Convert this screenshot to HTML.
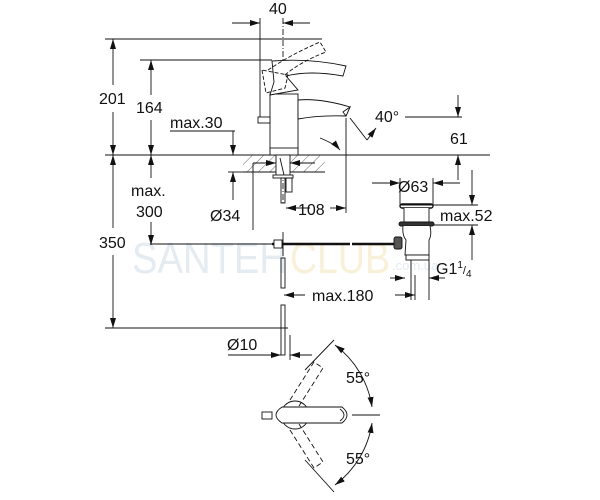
<!DOCTYPE html>
<html><head><meta charset="utf-8"><style>
html,body{margin:0;padding:0;background:#fff}
svg{display:block}
text{font-family:"Liberation Sans",sans-serif;fill:#111}
</style></head><body>
<svg width="600" height="500" viewBox="0 0 600 500" xmlns="http://www.w3.org/2000/svg">
<defs>
<marker id="a" viewBox="0 0 10 6" refX="10" refY="3" markerWidth="10" markerHeight="6" orient="auto-start-reverse" markerUnits="userSpaceOnUse"><path d="M0,0 L10,3 L0,6z" fill="#111"/></marker>
<pattern id="h" width="8" height="8" patternUnits="userSpaceOnUse" patternTransform="rotate(45)"><line x1="0" y1="0" x2="0" y2="8" stroke="#444" stroke-width="0.8"/></pattern>
</defs>
<!-- watermark -->
<text x="132" y="273" font-size="44" textLength="155" lengthAdjust="spacingAndGlyphs" style="fill:#e4ebf1">SANTEH</text>
<text x="290" y="273" font-size="44" textLength="100" lengthAdjust="spacingAndGlyphs" style="fill:#f8f0d8">CLUB</text>
<text x="392" y="270" font-size="13" style="fill:#e4ebf1">.com.ua</text>
<g stroke="#111" stroke-width="0.9" fill="none">
<line x1="105" y1="39" x2="322" y2="39"/>
<line x1="140" y1="60" x2="272" y2="60"/>
<line x1="105" y1="155" x2="490" y2="155"/>
<line x1="105" y1="328" x2="288" y2="328"/>
<line x1="170" y1="131" x2="235" y2="131"/>
<line x1="113" y1="39" x2="113" y2="85" marker-start="url(#a)"/>
<line x1="113" y1="112" x2="113" y2="155" marker-end="url(#a)"/>
<line x1="113" y1="155" x2="113" y2="228" marker-start="url(#a)"/>
<line x1="113" y1="255" x2="113" y2="328" marker-end="url(#a)"/>
<line x1="151" y1="60" x2="151" y2="95" marker-start="url(#a)"/>
<line x1="151" y1="120" x2="151" y2="155" marker-end="url(#a)"/>
<line x1="151" y1="155" x2="151" y2="178" marker-start="url(#a)"/>
<line x1="151" y1="222" x2="151" y2="245" marker-end="url(#a)"/>
<line x1="150" y1="244" x2="272" y2="244"/>
<line x1="233" y1="131" x2="233" y2="155" marker-end="url(#a)"/>
<line x1="233" y1="200" x2="233" y2="172" marker-end="url(#a)"/>
<line x1="228" y1="172" x2="243" y2="172"/>
<line x1="260" y1="18" x2="260" y2="118"/>
<line x1="283" y1="18" x2="283" y2="205" stroke-dasharray="6,2,1,2"/>
<line x1="232" y1="23" x2="260" y2="23" marker-end="url(#a)"/>
<line x1="310" y1="23" x2="283" y2="23" marker-end="url(#a)"/>
<rect x="243" y="155" width="82" height="17" fill="url(#h)" stroke="none"/>
<line x1="243" y1="172" x2="325" y2="172"/>
<rect x="270" y="94" width="28" height="58" fill="#fff"/>
<rect x="270" y="148" width="28" height="7" fill="#fff"/>
<path d="M298,100 Q320,98 350,107 L346,116 Q320,115 298,119 Z" fill="#fff"/>
<path d="M343,112 L350,107 L346,116 Z" fill="#fff"/>
<path d="M272,61 Q310,58 346,66 L343,76 Q310,70 286,76 L298,90 L270,95 L274,82 Z" fill="#fff"/>
<path d="M262,70 L266,93 L285,88 L288,75 Z" stroke-dasharray="4,2"/>
<path d="M268,70 Q290,55 320,42 L326,52 Q300,62 285,75" stroke-dasharray="4,2"/>
<rect x="258" y="117" width="12" height="6" fill="#fff"/>
<rect x="276" y="155" width="14" height="21" fill="#fff"/>
<line x1="280" y1="158" x2="284" y2="175"/>
<rect x="273" y="175" width="20" height="3" fill="#fff"/>
<rect x="281" y="178" width="4" height="25"/>
<rect x="286" y="178" width="6" height="14"/>
<line x1="253" y1="163" x2="276" y2="163" marker-end="url(#a)"/>
<line x1="315" y1="163" x2="290" y2="163" marker-end="url(#a)"/>
<line x1="253" y1="163" x2="253" y2="230"/>
<path d="M320,138 Q335,144 340,150" marker-end="url(#a)"/>
<line x1="346" y1="118" x2="346" y2="213"/>
<line x1="350" y1="118" x2="367" y2="140"/>
<path d="M367,140 L376,128" marker-end="url(#a)"/>
<line x1="405" y1="117" x2="462" y2="117"/>
<line x1="458" y1="95" x2="458" y2="117" marker-end="url(#a)"/>
<line x1="458" y1="180" x2="458" y2="155" marker-end="url(#a)"/>
<line x1="310" y1="208" x2="286" y2="208" marker-end="url(#a)"/>
<line x1="330" y1="208" x2="346" y2="208" marker-end="url(#a)"/>
<line x1="372" y1="183" x2="400" y2="183" marker-end="url(#a)"/>
<line x1="460" y1="183" x2="433" y2="183" marker-end="url(#a)"/>
<line x1="400" y1="178" x2="400" y2="205"/>
<line x1="433" y1="178" x2="433" y2="205"/>
<rect x="400" y="204" width="33" height="4" rx="2" fill="#fff" stroke-width="1.4"/>
<path d="M404,208 L404,222 L429,222 L429,208" fill="#fff"/>
<rect x="399" y="222" width="35" height="4" rx="2" fill="#333"/>
<path d="M403,226 Q402,235 406,240 L405,255 L429,255 L429,240 Q432,235 430,226" fill="#fff"/>
<rect x="406" y="255" width="23" height="5" fill="#fff"/>
<line x1="411" y1="260" x2="411" y2="300"/>
<line x1="429" y1="260" x2="429" y2="300"/>
<rect x="394" y="237" width="8" height="12" rx="2" fill="#555"/>
<line x1="400" y1="205" x2="478" y2="205"/>
<line x1="433" y1="225" x2="478" y2="225"/>
<line x1="472" y1="170" x2="472" y2="205" marker-end="url(#a)"/>
<line x1="472" y1="260" x2="472" y2="225" marker-end="url(#a)"/>
<line x1="390" y1="278" x2="405" y2="278" marker-end="url(#a)"/>
<line x1="445" y1="278" x2="429" y2="278" marker-end="url(#a)"/>
<line x1="272" y1="244" x2="350" y2="244" stroke-width="2.5"/>
<line x1="352" y1="244" x2="394" y2="244" stroke-width="2.5"/>
<rect x="274" y="240" width="8" height="8" fill="#fff"/>
<line x1="283" y1="232" x2="283" y2="256"/>
<rect x="281" y="258" width="4" height="30"/>
<rect x="281" y="305" width="4" height="50"/>
<line x1="290" y1="335" x2="290" y2="360"/>
<line x1="305" y1="295" x2="284" y2="295" marker-end="url(#a)"/>
<line x1="395" y1="295" x2="415" y2="295" marker-end="url(#a)"/>
<line x1="415" y1="275" x2="415" y2="300"/>
<line x1="228" y1="355" x2="281" y2="355" marker-end="url(#a)"/>
<line x1="312" y1="355" x2="290" y2="355" marker-end="url(#a)"/>
<circle cx="295" cy="415" r="14" fill="#fff"/>
<rect x="262" y="412" width="10" height="7" fill="#fff"/>
<path d="M282,407 L342,407 Q352,415 342,423 L282,423 Q270,415 282,407 Z" fill="#fff"/>
<path d="M340,409 Q348,415 340,421" />
<path d="M290,400 L314,362 L323,368 L299,406" stroke-dasharray="5,3"/>
<path d="M290,430 L314,468 L323,462 L299,424" stroke-dasharray="5,3"/>
<path d="M305,370 L334,340" />
<path d="M305,460 L334,492" />
<path d="M335,345 A95,95 0 0 1 372,407" marker-start="url(#a)" marker-end="url(#a)"/>
<path d="M372,423 A95,95 0 0 1 335,485" marker-start="url(#a)" marker-end="url(#a)"/>
<line x1="352" y1="415" x2="380" y2="415"/>
</g>
<g font-size="16">
<text x="269" y="14">40</text>
<text x="99" y="104">201</text>
<text x="136" y="113">164</text>
<text x="170" y="128">max.30</text>
<text x="375" y="122">40°</text>
<text x="450" y="144">61</text>
<text x="131" y="196">max.</text>
<text x="136" y="217">300</text>
<text x="398" y="192">Ø63</text>
<text x="210" y="221">Ø34</text>
<text x="298" y="215">108</text>
<text x="440" y="221">max.52</text>
<text x="99" y="248">350</text>
<text x="436" y="274">G1<tspan font-size="10" dy="-6">1</tspan><tspan font-size="11" dy="6">/</tspan><tspan font-size="10" dy="3">4</tspan></text>
<text x="312" y="301">max.180</text>
<text x="227" y="350">Ø10</text>
<text x="346" y="383">55°</text>
<text x="346" y="464">55°</text>
</g>
</svg>
</body></html>
